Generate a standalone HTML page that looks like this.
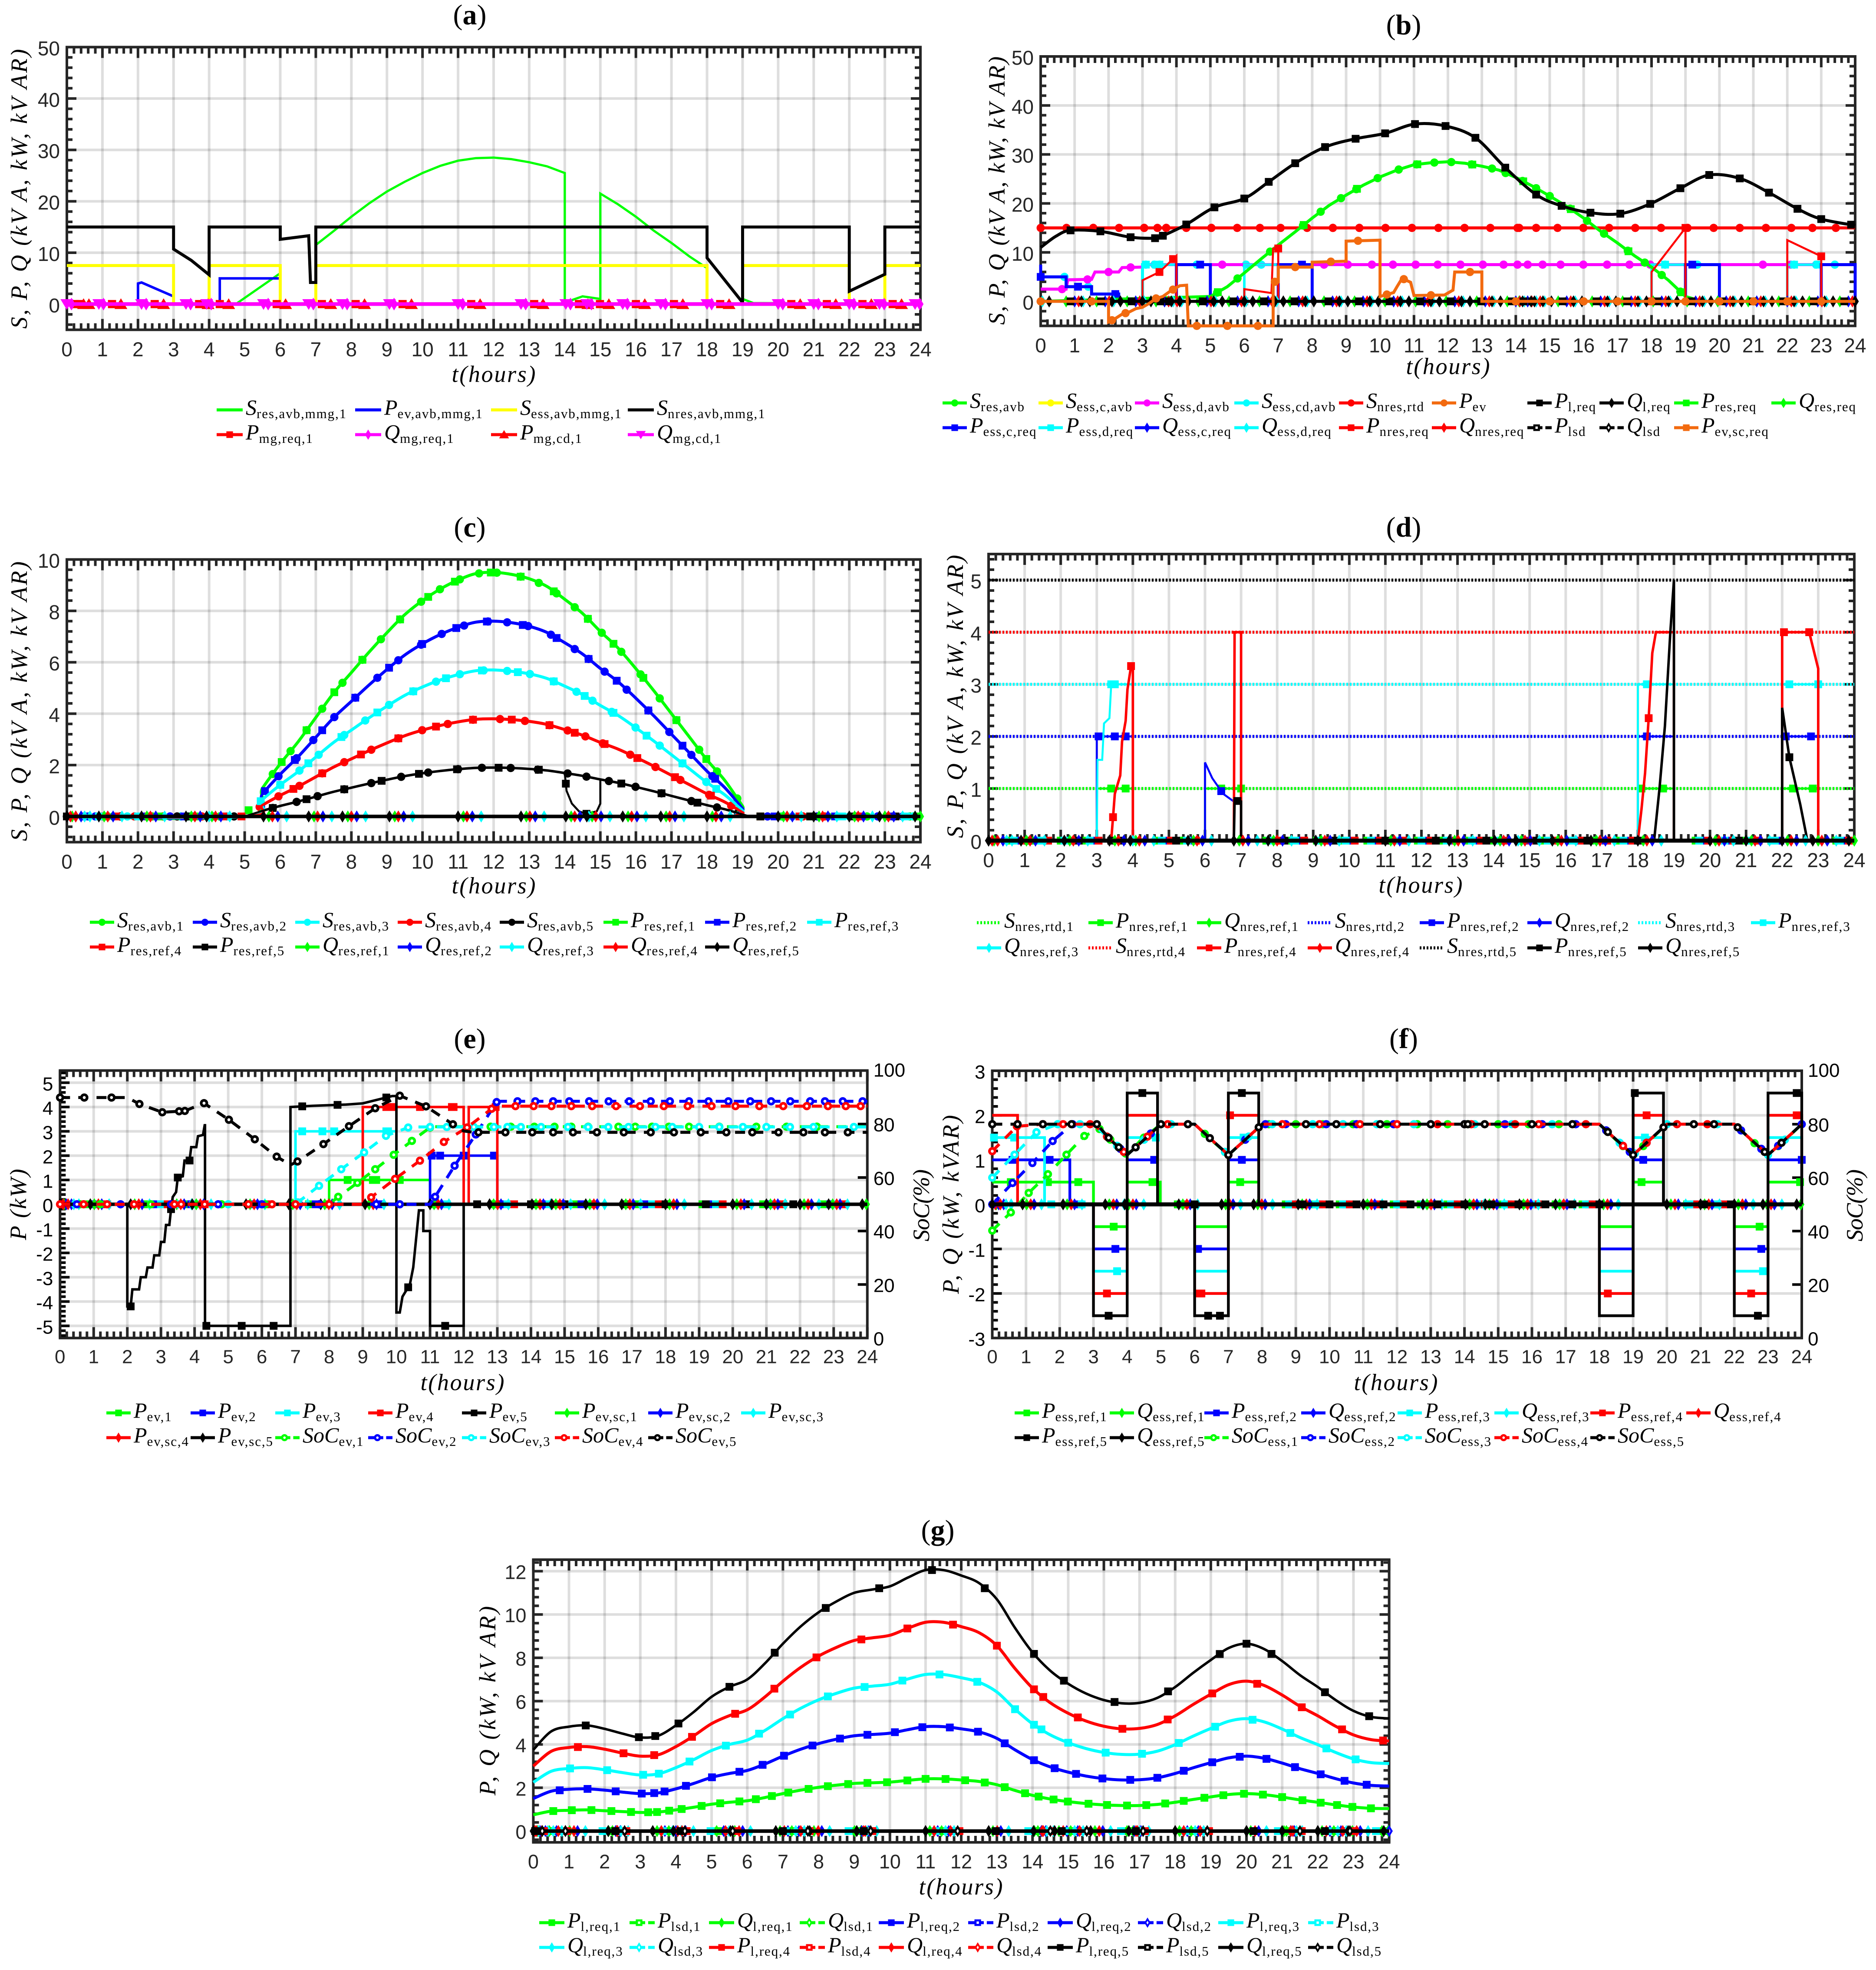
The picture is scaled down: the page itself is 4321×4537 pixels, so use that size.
<!DOCTYPE html>
<html lang="en">
<head>
<meta charset="utf-8">
<title>Microgrid power flow charts</title>
<style>
html,body{margin:0;padding:0;background:#fff;}
svg{display:block;}
text{font-family:"Liberation Serif",serif;}
.tick{font-family:"Liberation Sans",sans-serif;}
</style>
</head>
<body>
<svg id="figure" xmlns="http://www.w3.org/2000/svg" width="4321" height="4537" viewBox="0 0 4321 4537">
<rect x="0" y="0" width="4321" height="4537" fill="#fff"/>
<g id="panel-a"></g>
<g id="panel-b"></g>
<g id="panel-c"></g>
<g id="panel-d"></g>
<g id="panel-e"></g>
<g id="panel-f"></g>
<g id="panel-g"></g>
</svg>
<script>
/* ---------- colours ---------- */
const GRN='#00ff00',BLU='#0000ff',CYN='#00ffff',RED='#ff0000',BLK='#000000',YEL='#ffff00',MAG='#ff00ff',ORG='#f26a0f';

/* ---------- shared data ---------- */
const hourTicks=[0,1,2,3,4,5,6,7,8,9,10,11,12,13,14,15,16,17,18,19,20,21,22,23,24];
const zeroT=[0,24];
const zeroV=[0,0];
const zeroMarks=[0,.55,.9,1.66,2.1,2.54,3.35,3.6,3.93,4.69,5.53,6.34,6.8,7.2,7.75,8.56,9.07,10.07,11,11.84,12.77,13.6,14.03,14.3,14.62,15.04,15.63,16.2,16.7,17.3,18,19.04,20,20.6,21,21.5,22,22.35,22.85,23.35,23.85];
const sparseMarks=[.7,1.6,2.5,3.35,3.6,4.6,5.5,6.4,7.3,8.3,9.2,10.1,11,11.9,12.8,13.7,14.05,14.3,15.2,16.2,17.1,18,19,19.9,20.8,21.7,22.6,23.5];

/* ---------- panel a data ---------- */
const aYTicks=[0,10,20,30,40,50];
const aResT=[0,4.75,6,6,7,7,7.5,8,8.5,9,9.5,10,10.5,11,11.5,12,12.5,13,13.5,14,14,14.5,15,15,15.5,16,16.5,17,17.5,18,18,19,19,19.3,24];
const aResV=[0,0,6,0,0,11.5,14.2,17,19.6,21.9,23.8,25.5,26.9,27.9,28.4,28.5,28.2,27.6,26.8,25.5,.3,1.5,1,21.5,19.4,17,14.3,11.9,9.3,7,0,0,1,.2,0];
const aEvT=[0,2,2,2.1,2.5,3,3,4.3,4.3,6,6,24];
const aEvV=[0,0,4,4.2,3,1.5,0,0,5,5,0,0];
const aEssT=[0,3,3,4,4,6,6,7,7,18,18,19,19,22,22,23,23,24];
const aEssV=[7.5,7.5,0,0,7.5,7.5,0,0,7.5,7.5,0,0,7.5,7.5,0,0,7.5,7.5];
const aNresT=[0,3,3,3.5,4,4,6,6,6.8,6.85,7,7,18,18,19,19,22,22,23,23,24];
const aNresV=[15,15,10.7,8.5,5.7,15,15,12.6,13.3,4.2,4.2,15,15,9,.3,15,15,2.5,5.8,15,15];

/* ---------- panel b data ---------- */
const bYTicks=[0,10,20,30,40,50];
const bResT=[0,5,5.5,6,6.5,7,7.5,8,8.5,9,9.5,10,10.5,11,11.5,12,12.5,13,13.5,14,14.5,15,15.5,16,16.5,17,17.5,18,18.5,19,19.5,24];
const bResV=[0,1,3,5.8,8.7,11.5,14.2,17,19.6,21.7,23.7,25.4,26.8,27.9,28.3,28.5,28.2,27.6,26.8,25.3,23.5,21.5,19.4,17,14.3,11.9,9.3,7,4.3,1,0,0];
const bLoadT=[0,.45,.88,1.76,2.65,3.37,3.6,4.29,5.12,6,6.72,7.5,8.38,9.28,10.15,11.03,11.93,12.81,13.69,14.6,15.35,16.2,17.08,17.96,18.85,19.7,20.6,21.46,22.3,23,24];
const bLoadV=[11,13.3,14.5,14.3,13.1,12.9,13.4,15.7,19.2,21,24.4,28.2,31.5,33.2,34.3,36.2,35.8,33.4,27.3,21.8,19.5,18.1,17.9,19.9,23.1,25.8,25.1,22.2,18.9,16.8,15.5];
const bRtdV=[15,15];
const bDAvbT=[0,.75,.8,1.5,1.6,2.3,2.4,3,3.1,24];
const bDAvbV=[2.5,2.5,4.4,4.5,6,6,6.9,7,7.5,7.5];
const bCdAvbT=[0,.75,.75,1.5,1.5,2.3,2.3,3,3,24];
const bCdAvbV=[5,5,3,3,1.5,1.5,.5,.5,7.5,7.5];
const bEssCT=[0,0,.75,.75,1.5,1.5,2.3,2.3,3,4,4,5,5,7,7,8,8,19,19,20,20,23,23,24,24];
const bEssCV=[7.5,5,5,3,3,1.5,1.5,.5,0,0,7.5,7.5,0,0,7.5,7.5,0,0,7.5,7.5,0,0,7.5,7.5,0];
const bEssDT=[0,3,3,4,4,6,6,7,7,18,18,19,19,22,22,23,23,24];
const bEssDV=[0,0,7.5,7.5,0,0,7.5,7.5,0,0,7.5,7.5,0,0,7.5,7.5,0,0];
const bNresT=[0,3,3,3.5,4,4,6,6,6.8,6.85,7,7,18,18,19,19,22,22,23,23,24];
const bNresV=[0,0,4.3,6,9.3,0,0,2.5,1.7,10.8,10.8,0,0,6,15,0,0,12.5,9.2,0,0];
const bEvT=[0,2,2,2.2,2.4,2.6,2.8,3,3.2,3.4,3.6,3.8,4,4.1,4.3,4.35,6.85,6.85,7,7,8,8,9,9,10,10,10.4,10.5,10.65,10.9,11,11.9,12.15,12.2,13,13,24];
const bEvV=[0,0,-4.2,-3.5,-2.6,-2.2,-1.5,-1.2,-.4,.6,1,2,2.8,3.2,3.3,-5,-5,4,4,7,7,8,8.2,12.3,12.5,1,1.8,3,4.7,3.9,1.2,1.3,2.3,6,6,0,0];
const bMarkRes=[5.2,5.8,6.76,7.73,8.25,8.85,9.3,9.93,10.55,11.08,11.6,12.1,12.7,13.3,13.7,14.2,14.6,15,15.6,16.1,16.6,17.3,17.8,18.3,18.85];
const bMarkLoad=[.88,1.76,2.65,3.37,3.6,4.29,5.12,6,6.72,7.5,8.38,9.28,10.15,11.03,11.93,12.81,13.69,14.6,15.35,16.2,17.08,17.96,18.85,19.7,20.6,21.46,22.3,23,23.88];
const bMarkRtd=[0,.76,1.55,2.31,3.05,3.44,3.7,4.29,5.03,5.79,6.46,7.07,7.85,8.61,9.39,10.16,10.94,11.72,12.49,13.25,14.05,14.1,14.6,15.23,15.99,16.75,17.52,18.28,19.06,19.83,20.6,21.37,22.12,22.74,23.43];
const bMarkD=[.63,1.38,2,2.65,5.35,8.35,9.05,9.76,10.38,11.05,11.7,12.37,13.03,13.64,14.05,14.35,14.79,15.32,15.99,16.69,17.35,17.96,21.28,22.1];
const bMarkCd=[.7,1.4,3.1,3.35,3.5,4.6,6.05,6.5,18.4,19.35,22.2,22.85,23.4];
const bMarkC=[0,1.1,2.2,3.1,3.5,4.7,7.7,19.2];
const bMarkEv=[0,1.5,2.1,2.5,3.4,3.9,4.6,5.5,6.4,6.9,7.5,8.55,9.35,10.2,10.7,11.5,12.65,14,15,16,17,18,19,20,21,22,23];
const bMarkNres=[3.5,3.9,6,7,18,19,22,23];

/* ---------- panel c data ---------- */
const cYTicks=[0,2,4,6,8,10];
const cHours=[0,5,5.5,6,6.5,7,7.5,8,8.5,9,9.5,10,10.5,11,11.5,12,12.5,13,13.5,14,14.5,15,15.5,16,16.5,17,17.5,18,18.5,19,19.2,24];
const cCurve1=[0,0,1.1,2.05,2.9,3.85,4.8,5.6,6.4,7.15,7.85,8.4,8.85,9.2,9.45,9.5,9.42,9.25,8.95,8.45,7.9,7.2,6.55,5.75,4.9,4,3.1,2.2,1.4,.4,0,0];
const cCurve2=[0,0,.88,1.64,2.32,3.08,3.84,4.48,5.12,5.72,6.28,6.72,7.08,7.36,7.56,7.6,7.54,7.4,7.16,6.76,6.32,5.76,5.24,4.6,3.92,3.2,2.48,1.76,1.12,.32,0,0];
const cCurve3=[0,0,.66,1.23,1.74,2.31,2.88,3.36,3.84,4.29,4.71,5.04,5.31,5.52,5.67,5.7,5.65,5.55,5.37,5.07,4.74,4.32,3.93,3.45,2.94,2.4,1.86,1.32,.84,.24,0,0];
const cCurve4=[0,0,.44,.82,1.16,1.54,1.92,2.24,2.56,2.86,3.14,3.36,3.54,3.68,3.78,3.8,3.77,3.7,3.58,3.38,3.16,2.88,2.62,2.3,1.96,1.6,1.24,.88,.56,.16,0,0];
const cCurve5=[0,0,.22,.41,.58,.77,.96,1.12,1.28,1.43,1.57,1.68,1.77,1.84,1.89,1.9,1.885,1.85,1.79,1.69,1.58,1.44,1.31,1.15,.98,.8,.62,.44,.28,.08,0,0];
const cDipT=[0,5,5.5,6,6.5,7,7.5,8,8.5,9,9.5,10,10.5,11,11.5,12,12.5,13,13.5,14,14.05,14.2,14.4,14.6,14.9,15,15,15.5,16,16.5,17,17.5,18,18.5,19,19.2,24];
const cDipV=[0,0,.22,.41,.58,.77,.96,1.12,1.28,1.43,1.57,1.68,1.77,1.84,1.89,1.9,1.885,1.85,1.79,1.69,1,.5,.2,.1,.2,.5,1.44,1.31,1.15,.98,.8,.62,.44,.28,.08,0,0];
const cS1Marks=[.6,1.3,2.4,3.4,4.3,5.79,6.29,6.74,7.18,7.75,8.31,8.83,9.37,9.96,10.49,11.05,11.59,12.09,12.76,13.27,13.77,14.28,14.65,15.04,15.59,16.13,16.67,17.14,17.78,18.28,18.85,20.1,21.4,22.5,23.7];
const cP1Marks=[1.1,2.6,3.6,5.11,6.04,6.74,7.52,8.31,9.37,10.16,10.91,11.92,12.76,13.69,14.65,15.37,16.21,17.14,17.98,19.5,20.9,22.2,23.9];
const cS2Marks=[.8,1.5,2.9,4.1,5.95,6.46,6.93,7.52,8.11,8.73,9.32,9.96,10.54,11.17,11.84,12.38,12.97,13.61,14.28,14.67,15.12,15.74,16.35,16.94,17.56,18.15,19.7,21.1,22.8,23.5];
const cP2Marks=[.5,2.2,3.3,5.57,6.41,7.18,8.11,9.06,9.99,10.95,11.81,12.82,13.77,14.67,15.46,16.35,17.31,18.23,19.9,21.6,23.2];
const cS3Marks=[.6,1.7,3.2,4.5,6,6.54,7.08,7.8,8.39,9.06,9.74,10.38,11.05,11.72,12.38,13.02,13.69,14.33,14.78,15.32,15.99,16.67,17.31,17.98,20.4,22,23.8];
const cP3Marks=[.9,2,3.5,5.45,6,6.79,7.72,8.73,9.74,10.66,11.67,12.68,13.69,14.56,15.37,16.3,17.31,18.26,20.2,21.8,23.6];
const cS4Marks=[1,1.9,2.7,3.8,5.42,5.95,6.54,7.18,7.8,8.56,9.32,9.99,10.71,11.42,12.18,12.88,13.57,14.08,14.58,15.07,15.84,16.55,17.25,18.06,18.68,20.7,21.3];
const cP4Marks=[1.4,2.3,4.4,4.91,6.37,7.18,8.27,9.32,10.38,11.42,12.51,13.57,14.28,15.12,16.04,17.1,18.11,19.5,20.6,22.3];
const cS5Marks=[0,1.5,3.1,4.7,5.79,6.46,7.05,7.8,8.56,9.4,10.16,11,11.67,12.48,13.24,14.08,14.61,15.24,15.99,16.72,17.56,18.28,18.87,21,23.1];
const cP5Marks=[0,3.5,5.79,6.74,7.8,8.85,9.9,10.97,12.14,13.27,14.03,14.61,15.59,16.72,17.73,19.5,20.9,22.1,23.3];

/* ---------- panel d data ---------- */
const dYTicks=[0,1,2,3,4,5];
const dRated1=[1,1];
const dRated2=[2,2];
const dRated3=[3,3];
const dRated4=[4,4];
const dRated5=[5,5];
const dP1T=[0,3,3,4,4,6,6,7,7,18,18,19,19,22,22,23,23,24];
const dP1V=[0,0,1,1,0,0,1,1,0,0,1,1,0,0,1,1,0,0];
const dP2T=[0,3,3,4,4,6,6,6.2,6.5,6.8,7,7,18,18,19,19,22,22,23,23,24];
const dP2V=[0,0,2,2,0,0,1.5,1.2,.9,.75,.75,0,0,2,2,0,0,2,2,0,0];
const dP3T=[0,3,3.02,3.15,3.2,3.35,3.4,4,4,18,18,19,19,22,22,23,23,24];
const dP3V=[0,0,1.55,1.55,2.25,2.35,3,3,0,0,3,3,0,0,3,3,0,0];
const dP4T=[0,3.4,3.5,3.65,3.7,3.8,3.85,3.95,4,4,6.8,6.82,7,7,18,18.1,18.2,18.3,18.4,18.5,19,19,22,22,22.75,23,23,24];
const dP4V=[0,0,.9,1.25,1.9,2.3,2.9,3.35,3.35,0,0,4,4,0,0,.6,1.3,2.35,3.6,4,4,0,0,4,4,3.3,0,0];
const dP5T=[0,6.8,6.82,7,7,18.45,18.6,18.75,18.9,19,19,22,22,22.2,22.5,22.7,24];
const dP5V=[0,0,.77,.75,0,0,1,2.2,4,5,0,0,2.55,1.6,.7,0,0];
const dLow=[.5,1.2,1.9,2.6,4.6,5.3,7.6,8.3,9,9.7,10.4,11.1,11.8,12.5,13.2,13.9,14.6,15.3,16,16.7,17.4,19.5,20.2,20.9,21.6,23.4];
const dP1Level=[3,3.4,3.8,6.45,7,18.1,18.7,22.3,22.85];
const dP2Level=[3.05,3.5,3.8,6.45,18.25,22.1,22.8];
const dP3Level=[3.4,3.5,18.25,22.2,23];
const dP4Level=[3.45,3.95,18.3,22.75];
const dP5Level=[3.4,3.7,6.9];

/* ---------- panel e data ---------- */
const eYTicks=[-5,-4,-3,-2,-1,0,1,2,3,4,5];
const eRTicks=[0,20,40,60,80,100];
const eP1T=[0,8,8,11,11,24];
const eP1V=[0,0,1,1,0,0];
const eP2T=[0,11,11,13,13,24];
const eP2V=[0,0,2,2,0,0];
const eP3T=[0,7,7,10,10,24];
const eP3V=[0,0,3,3,0,0];
const eP4T=[0,9,9,12,12,12.15,12.15,13,13,24];
const eP4V=[0,0,4,4,0,0,4,4,0,0];
const eP5T=[0,2,2,2.1,2.15,2.35,2.4,2.55,2.6,2.75,2.8,2.95,3,3.1,3.15,3.25,3.3,3.35,3.45,3.5,3.65,3.7,3.85,3.9,4.05,4.1,4.25,4.3,4.31,4.31,6.85,6.85,7.5,8.5,9,9.87,10,10,10.1,10.18,10.4,10.5,10.67,10.8,10.8,11,11,12,12,24];
const eP5V=[0,0,-4.2,-4.2,-3.5,-3.5,-3,-3,-2.6,-2.6,-2.1,-2.1,-1.55,-1.55,-.85,-.85,-.2,.3,.5,1.1,1.15,1.8,1.8,2.35,2.35,2.8,2.85,3.25,3.25,-5,-5,4,4.05,4.1,4.15,4.45,4.45,-4.45,-4.45,-3.8,-3.3,-2.6,-.25,-.25,-1.1,-1.1,-5,-5,0,0];
const eSoc1T=[0,8,8.27,8.84,9.37,9.92,10.46,11,11.1,24];
const eSoc1V=[50,50,52.8,58,63.1,68.5,73.7,78.7,79,79];
const eSoc2T=[0,11,11.15,11.73,12.36,12.98,13.1,24];
const eSoc2V=[50,50,52.8,64.4,76.1,88.2,88.5,88.5];
const eSoc3T=[0,7,7.07,7.7,8.36,9.04,9.69,10.35,10.5,24];
const eSoc3V=[50,50,50.7,56.9,63.1,69.4,75.6,78.7,78.9,78.9];
const eSoc4T=[0,9,9.25,9.96,10.7,11.41,12.1,12.83,13,24];
const eSoc4V=[50,50,52.6,59.5,66.3,73.3,78.7,85.7,86.7,86.7];
const eSoc5T=[0,2,2.36,3.04,3.71,4.28,5.02,5.79,6.44,6.85,7.06,7.83,8.59,9.37,10.1,10.88,11.68,12,12.3,24];
const eSoc5V=[89.9,89.9,87.5,84.4,84.9,87.8,81.6,74.3,67.8,64.7,66,72.5,79.2,85.9,90.6,86.6,79.9,77.4,76.9,76.9];
const eSoc1Marks=[.6,1.2,2.7,3.5,4.8,6.1,8.27,8.84,9.37,9.92,10.46,11,12.8,13.4,14.1,14.7,15.2,15.7,16.6,17.1,17.6,18.1,18.7,19.6,20.7,21.6,22.5];
const eSoc2Marks=[.5,1.8,3.3,4.7,6,7.7,9.4,10.1,11.15,11.73,12.36,12.98,13.6,14.13,14.66,15.14,15.73,16.31,16.92,17.56,18.13,18.7,19.28,19.87,20.52,21.14,21.71,22.3,22.74,23.27,23.86];
const eSoc3Marks=[.7,2.2,3.5,5,6.3,7.07,7.7,8.36,9.04,9.69,10.35,11,11.5,12.3,12.9,13.3,13.7,14.3,15.1,15.7,16.3,16.9,17.7,18.2,19,19.6,20.3,21,21.7,22.4,23.6];
const eSoc4Marks=[0,.7,1.4,2.2,3.4,3.6,4.3,5.6,6.3,7,8,9.25,9.96,10.7,11.41,12.1,12.83,13.54,14.08,14.61,15.2,15.82,16.53,17.24,17.95,18.66,19.37,20.08,20.79,21.5,22.2,22.83,23.36,23.8];
const eSoc5Marks=[0,.72,1.53,2.36,3.04,3.54,3.71,4.28,5.02,5.79,6.44,7.06,7.83,8.59,9.37,10.1,10.88,11.68,12.44,13.24,14.04,14.66,15.25,15.96,16.76,17.56,18.25,19.05,19.81,20.58,21.36,22.1,22.74,23.42];
const eP5Level=[2.1,3.3,3.5,3.85,4.35,5.4,6.35,7.2,8.25,9.7,10.35,11.45,12.4,14,15,16.8,18,19.2,20.4,21.8];

/* ---------- panel f data ---------- */
const fYTicks=[-3,-2,-1,0,1,2,3];
const fRTicks=[0,20,40,60,80,100];
const fP1T=[0,3,3,4,4,4.98,4.98,6,6,7,7,7.9,7.9,18,18,19,19,19.9,19.9,22,22,23,23,24,24];
const fP1V=[.5,.5,-.5,-.5,.5,.5,0,0,-.5,-.5,.5,.5,0,0,-.5,-.5,.5,.5,0,0,-.5,-.5,.5,.5,0];
const fP2T=[0,2.3,2.3,3,3,4,4,4.9,4.9,6,6,7,7,7.9,7.9,18,18,19,19,19.9,19.9,22,22,23,23,24,24];
const fP2V=[1,1,0,0,-1,-1,1,1,0,0,-1,-1,1,1,0,0,-1,-1,1,1,0,0,-1,-1,1,1,0];
const fP3T=[0,1.55,1.55,3,3,4,4,4.9,4.9,6,6,7,7,7.9,7.9,18,18,19,19,19.9,19.9,22,22,23,23,24,24];
const fP3V=[1.5,1.5,0,0,-1.5,-1.5,1.5,1.5,0,0,-1.5,-1.5,1.5,1.5,0,0,-1.5,-1.5,1.5,1.5,0,0,-1.5,-1.5,1.5,1.5,0];
const fP4T=[0,.75,.75,3,3,4,4,4.9,4.9,6,6,7,7,7.9,7.9,18,18,19,19,19.9,19.9,22,22,23,23,24,24];
const fP4V=[2,2,0,0,-2,-2,2,2,0,0,-2,-2,2,2,0,0,-2,-2,2,2,0,0,-2,-2,2,2,0];
const fP5T=[0,3,3,4,4,4.9,4.9,6,6,7,7,7.9,7.9,18,18,19,19,19.9,19.9,22,22,23,23,24,24];
const fP5V=[0,0,-2.5,-2.5,2.5,2.5,0,0,-2.5,-2.5,2.5,2.5,0,0,-2.5,-2.5,2.5,2.5,0,0,-2.5,-2.5,2.5,2.5,0];
const fSoc1T=[0,.55,1.08,1.65,2.2,2.73,3.18,3.6,4,4.4,5,6,6.5,7,7.5,8,18,18.5,19,19.5,20,22,22.5,23,23.5,24];
const fSoc1V=[40.2,47,54.3,61.3,68.6,75.6,78.2,73,68.5,74,80,80,74,68.5,74,80,80,74,68.5,74,80,80,74,68.5,74,80];
const fSoc2T=[0,.6,1.19,1.79,2.38,3,3.5,4,4.5,5,6,6.5,7,7.5,8,18,18.5,19,19.5,20,22,22.5,23,23.5,24];
const fSoc2V=[50,58,65.5,73.7,80,80,74.2,68.5,74.2,80,80,74.2,68.5,74.2,80,80,74.2,68.5,74.2,80,80,74.2,68.5,74.2,80];
const fSoc3T=[0,.66,1.31,1.94,3,3.5,4,4.5,5,6,6.5,7,7.5,8,18,18.5,19,19.5,20,22,22.5,23,23.5,24];
const fSoc3V=[60,68.6,77,80,80,74.2,68.5,74.2,80,80,74.2,68.5,74.2,80,80,74.2,68.5,74.2,80,80,74.2,68.5,74.2,80];
const fSoc4T=[0,.73,1.5,3,3.5,4,4.5,5,6,6.5,7,7.5,8,18,18.5,19,19.5,20,22,22.5,23,23.5,24];
const fSoc4V=[69.9,79.2,80,80,74.2,68.5,74.2,80,80,74.2,68.5,74.2,80,80,74.2,68.5,74.2,80,80,74.2,68.5,74.2,80];
const fSoc5T=[0,3.1,3.5,4,4.5,5,6,6.5,7,7.5,8,18,18.5,19,19.5,20,22,22.5,23,23.5,24];
const fSoc5V=[80,80,74.2,68.5,74.2,80,80,74.2,68.5,74.2,80,80,74.2,68.5,74.2,80,80,74.2,68.5,74.2,80];
const fSoc1Marks=[0,.55,1.08,1.65,2.2,2.73,3.18,3.5,3.95,4.5,6.3,6.9,8.2,9,9.8,10.7,11.7,12.6,13.5,14.1,15,15.9,16.8,18.7,19.3,22.6,23.3];
const fSoc2Marks=[0,.6,1.19,1.79,2.38,3.8,4.7,6.9,7.5,8.1,8.7,9.9,10.8,11.9,13,14,15.2,16.3,17.3,18.2,18.9,19.4,22.2,22.8,23.3,24];
const fSoc3Marks=[0,.66,1.31,1.94,2.6,3.7,4.5,5.3,6.9,7.6,8.3,9.5,10.4,11.4,12.5,14.3,15.4,16.6,18.6,19.05,20,21.5,23,23.5];
const fSoc4Marks=[0,.73,1.5,2.1,2.9,3.4,3.9,4.6,5.2,5.8,7,8.6,9.7,10.9,12,13.2,14.2,15.5,16.2,17.6,18.7,19.4,20.3,21.2,22.9];
const fSoc5Marks=[0,.75,1.5,2.35,3.1,3.45,3.75,4.25,5,5.8,6.45,7,7.9,9.3,10.2,11.5,13,14,14.1,14.6,16,17.2,18.25,19,19.9,20.8,21.4,22.1,22.9,23.4];
const fLevel=[.5,1.1,1.6,2.2,2.5,3.4,3.55,4.4,4.7,6.4,7.3,18.3,19.2,22.3,22.7,23.4,23.9];
const fZeroRun=[5.4,5.8,8.6,9.4,10.2,11,11.8,12.6,13.4,14.2,15,15.8,16.6,17.4,20.5,21.3];

/* ---------- panel g data ---------- */
const gYTicks=[0,2,4,6,8,10,12];
const gHours=[0,.5,1,1.5,2,2.5,3,3.5,4,4.5,5,5.5,6,6.5,7,7.5,8,8.5,9,9.5,10,10.5,11,11.5,12,12.5,13,13.5,14,14.5,15,15.5,16,16.5,17,17.5,18,18.5,19,19.5,20,20.5,21,21.5,22,22.5,23,23.5,24];
const gLoad1=[.75,.92,.96,.98,.94,.9,.86,.88,.98,1.1,1.24,1.33,1.4,1.55,1.73,1.89,2.02,2.12,2.2,2.23,2.26,2.34,2.41,2.41,2.36,2.29,2.14,1.88,1.65,1.48,1.36,1.27,1.21,1.18,1.18,1.23,1.33,1.46,1.58,1.69,1.73,1.68,1.57,1.44,1.33,1.21,1.11,1.05,1.04];
const gLoad2=[1.5,1.84,1.93,1.95,1.89,1.8,1.73,1.76,1.95,2.2,2.48,2.66,2.8,3.1,3.46,3.78,4.04,4.24,4.4,4.46,4.52,4.68,4.82,4.82,4.72,4.58,4.28,3.76,3.3,2.96,2.72,2.54,2.42,2.36,2.37,2.46,2.66,2.92,3.16,3.38,3.46,3.36,3.14,2.88,2.66,2.42,2.22,2.11,2.08];
const gLoad3=[2.25,2.76,2.89,2.93,2.83,2.7,2.59,2.64,2.93,3.3,3.72,4,4.2,4.65,5.19,5.67,6.06,6.36,6.6,6.69,6.78,7.02,7.23,7.23,7.08,6.87,6.42,5.64,4.95,4.44,4.08,3.81,3.63,3.54,3.55,3.69,3.99,4.38,4.74,5.07,5.19,5.04,4.71,4.32,3.99,3.63,3.33,3.16,3.12];
const gLoad4=[3,3.68,3.86,3.9,3.78,3.6,3.46,3.52,3.9,4.4,4.96,5.33,5.6,6.2,6.92,7.56,8.08,8.48,8.8,8.92,9.04,9.36,9.64,9.64,9.44,9.16,8.56,7.52,6.6,5.92,5.44,5.08,4.84,4.72,4.74,4.92,5.32,5.84,6.32,6.76,6.92,6.72,6.28,5.76,5.32,4.84,4.44,4.22,4.16];
const gLoad5=[3.75,4.6,4.82,4.88,4.72,4.5,4.32,4.4,4.88,5.5,6.2,6.66,7,7.75,8.65,9.45,10.1,10.6,11,11.15,11.3,11.7,12.05,12.05,11.8,11.45,10.7,9.4,8.25,7.4,6.8,6.35,6.05,5.9,5.92,6.15,6.65,7.3,7.9,8.45,8.65,8.4,7.85,7.2,6.65,6.05,5.55,5.27,5.2];
const gMarks1=[.56,1.08,1.63,2.19,2.74,3.22,3.47,3.81,4.16,4.72,5.24,5.78,6.24,6.69,7.15,7.72,8.26,8.83,9.37,9.92,10.49,11,11.56,12.11,12.66,13.22,13.79,14.17,14.59,14.99,15.57,16.09,16.65,17.19,17.72,18.24,18.82,19.35,19.93,20.46,21,21.57,22.08,22.54,22.97,23.49];
const gMarks2=[.74,1.52,2.31,3.04,3.39,3.68,4.28,5.01,5.78,6.43,7.03,7.83,8.6,9.37,10.14,10.91,11.68,12.47,13.22,14.04,14.62,15.22,15.96,16.74,17.5,18.24,19.04,19.81,20.56,21.36,22.08,22.75,23.37];
const gMarks3=[1.03,2.07,3.08,3.52,4.38,5.4,6.33,7.2,8.26,9.29,10.35,11.39,12.45,13.51,14.04,14.25,15,16.05,17.07,18.1,19.12,20.17,21.23,22.24,23.06];
const gMarks4=[1.25,2.53,3.39,4.45,5.66,6.76,7.94,9.2,10.49,11.77,13,14.04,14.3,15.27,16.52,17.79,19.04,20.3,21.55,22.68,23.83];
const gMarks5=[1.47,2.96,3.42,4.07,5.5,6.77,8.2,9.7,11.18,12.66,14.04,14.88,16.3,17.8,19.25,20,20.7,22.2,23.44];

/* ---------- helpers ---------- */
const NS='http://www.w3.org/2000/svg';
const LINE_SCALE=1.15;
const MARK_SCALE=1.12;
function mk(tag,parent,attrs){
  const n=document.createElementNS(NS,tag);
  for(const k in attrs){n.setAttribute(k,attrs[k]);}
  parent.appendChild(n);
  return n;
}
function shifted(list,s,step){
  const out=[];
  list.forEach((h,i)=>{
    if(step&&i%step!==0)return;
    let v=h+s;
    if(v>24)v-=24;
    out.push(v);
  });
  return out;
}
function xOf(p,h){return p.L+(p.R-p.L)*h/24;}
function yOf(p,v){return p.B-(p.B-p.T)*(v-p.ymin)/(p.ymax-p.ymin);}
function yRight(p,v){return p.B-(p.B-p.T)*(v-p.rmin)/(p.rmax-p.rmin);}
function valueAt(t,v,h){
  if(t.length===v.length){
    for(let i=0;i<t.length-1;i++){
      if(h>=t[i]&&h<=t[i+1]){
        if(t[i+1]===t[i])return v[i+1];
        return v[i]+(v[i+1]-v[i])*(h-t[i])/(t[i+1]-t[i]);
      }
    }
  }
  return v[v.length-1];
}
function shapePath(type,cx,cy,k){
  const sq=8*k,dw=7.5*k,dh=12.5*k,tw=12*k,th=10*k,r=8.5*k;
  if(type==='sq')return `M${cx-sq} ${cy-sq}H${cx+sq}V${cy+sq}H${cx-sq}Z`;
  if(type==='di')return `M${cx} ${cy-dh}L${cx+dw} ${cy}L${cx} ${cy+dh}L${cx-dw} ${cy}Z`;
  if(type==='tu')return `M${cx} ${cy-th-1}L${cx+tw} ${cy+th-1}H${cx-tw}Z`;
  if(type==='td')return `M${cx} ${cy+th+1}L${cx+tw} ${cy-th+1}H${cx-tw}Z`;
  return `M${cx-r} ${cy}A${r} ${r} 0 1 1 ${cx+r} ${cy}A${r} ${r} 0 1 1 ${cx-r} ${cy}Z`;
}
function drawMark(g,type,cx,cy,color,k,hollow){
  const m=mk('path',g,{d:shapePath(type,cx,cy,k),fill:color});
  
  
  if(hollow){
    const hole=mk('path',g,{d:shapePath(type,cx,cy,k*0.36),fill:'#fff'});
    
    
  }
}
function smoothPath(pts){
  let d=`M${pts[0][0]} ${pts[0][1]}`;
  for(let i=0;i<pts.length-1;i++){
    const a=pts[Math.max(i-1,0)],b=pts[i],c=pts[i+1],e=pts[Math.min(i+2,pts.length-1)];
    d+=`C${b[0]+(c[0]-a[0])/6} ${b[1]+(c[1]-a[1])/6} ${c[0]-(e[0]-b[0])/6} ${c[1]-(e[1]-b[1])/6} ${c[0]} ${c[1]}`;
  }
  return d;
}
function drawSeries(g,p,s){
  const toY=s.right?yRight:yOf;
  const pts=s.t.map((h,i)=>[xOf(p,h),toY(p,s.v[i])]);
  const d=s.smooth?smoothPath(pts):'M'+pts.map(q=>q[0]+' '+q[1]).join('L');
  const attrs={d:d,fill:'none',stroke:s.c,'stroke-width':(s.w||6)*LINE_SCALE,'stroke-linejoin':'miter','stroke-miterlimit':3};
  if(s.dash)attrs['stroke-dasharray']=s.dash;
  const line=mk('path',g,attrs);
  
  
  if(s.m){
    (s.mt||[]).forEach(h=>{
      drawMark(g,s.m,xOf(p,h),toY(p,valueAt(s.t,s.v,h)),s.c,(s.k||1)*MARK_SCALE,s.hollow);
    });
  }
}
function drawAxes(g,p){
  const grid=mk('g',g,{});
  
  
  const ink=p.ink||'#262626';
  const ticks=mk('g',g,{stroke:'#262626','stroke-width':6,fill:'none'});
  
  
  const yInk=mk('g',g,{stroke:ink,'stroke-width':6,fill:'none'});
  
  
  hourTicks.forEach(h=>{
    const x=xOf(p,h);
    if(h>0&&h<24){
      mk('line',grid,{x1:x,x2:x,y1:p.T,y2:p.B,stroke:'#000','stroke-opacity':.13,'stroke-width':6});
    }
    mk('line',ticks,{x1:x,x2:x,y1:p.B,y2:p.B-25});
    mk('line',ticks,{x1:x,x2:x,y1:p.T,y2:p.T+25});
    if(h<24){
      for(let k=1;k<5;k++){
        const xm=x+(p.R-p.L)/24*k/5;
        mk('line',ticks,{x1:xm,x2:xm,y1:p.B,y2:p.B-15});
        mk('line',ticks,{x1:xm,x2:xm,y1:p.T,y2:p.T+15});
      }
    }
    const lab=mk('text',g,{class:'tick',x:x,y:p.B+p.xOff,'font-size':p.fs,'text-anchor':'middle',fill:'#262626'});
    lab.textContent=h;
    
    
  });
  const step=p.yt[1]-p.yt[0];
  for(let v=p.yt[0]-step;v<=p.yt[p.yt.length-1]+step;v+=step/5){
    const vr=Math.round(v*1000)/1000;
    if(vr<p.ymin||vr>p.ymax)continue;
    const isMajor=p.yt.includes(vr);
    const y=yOf(p,vr);
    mk('line',yInk,{x1:p.L,x2:p.L+(isMajor?22:13),y1:y,y2:y});
    if(!p.rt){mk('line',yInk,{x1:p.R,x2:p.R-(isMajor?22:13),y1:y,y2:y});}
  }
  p.yt.forEach(v=>{
    const y=yOf(p,v);
    if(y>p.T+4&&y<p.B-4){
      mk('line',grid,{x1:p.L,x2:p.R,y1:y,y2:y,stroke:'#000','stroke-opacity':.13,'stroke-width':6});
    }
    const lab=mk('text',g,{class:'tick',x:p.L-16,y:y+(p.yOff||19),'font-size':p.fs,'text-anchor':'end',fill:ink});
    lab.textContent=v;
    
    
  });
  if(p.rt){
    p.rt.forEach(v=>{
      const y=yRight(p,v);
      if(v>0&&v<100){mk('line',yInk,{x1:p.R,x2:p.R-22,y1:y,y2:y});}
      const lab=mk('text',g,{class:'tick',x:p.R+14,y:y+(v===100?14:17),'font-size':p.fs,'text-anchor':'start',fill:ink});
      lab.textContent=v;
      
      
    });
  }
  const box=mk('rect',g,{x:p.L,y:p.T,width:p.R-p.L,height:p.B-p.T,fill:'none',stroke:ink==='#262626'?'#262626':'#222','stroke-width':6});
  
  
  /* titles and axis labels */
  const title=mk('text',g,{x:p.tx,y:p.ty,'font-size':66,'text-anchor':'middle',fill:'#000'});
  
  
  mk('tspan',title,{}).textContent='(';
  mk('tspan',title,{'font-weight':'bold'}).textContent=p.letter;
  mk('tspan',title,{}).textContent=')';
  const xl=mk('text',g,{x:p.xlx,y:p.B+p.xlOff,'font-size':54,'font-style':'italic','text-anchor':'middle',textLength:193,lengthAdjust:'spacing',fill:'#000'});
  xl.textContent='t(hours)';
  
  
  const yl=mk('text',g,{transform:`translate(${p.ylx} ${p.yly0}) rotate(-90)`,x:0,y:0,'font-size':54,'font-style':'italic',textLength:p.ylen,lengthAdjust:'spacing',fill:'#000'});
  yl.textContent=p.ylab;
  
  
  if(p.rlab){
    const rl=mk('text',g,{transform:`translate(${p.rlx} ${p.rly0}) rotate(-90)`,x:0,y:0,'font-size':54,'font-style':'italic',textLength:p.rlen,lengthAdjust:'spacing',fill:'#000'});
    rl.textContent=p.rlab;
    
    
  }
}
function drawLegend(g,items,cols,rows,len){
  items.forEach((it,i)=>{
    const col=i%cols.length,row=Math.floor(i/cols.length);
    const x=cols[col],y=rows[row];
    const e=mk('g',g,{});
    
    
    const a={x1:x,x2:x+len,y1:y,y2:y,stroke:it[2],'stroke-width':7};
    if(it[4]==='dash')a['stroke-dasharray']=`${len*.62} ${len*.12} ${len}`;
    if(it[4]==='dot')a['stroke-dasharray']='4 4';
    mk('line',e,a);
    if(it[3]){drawMark(e,it[3],x+(it[4]==='dash'?len*.38:len/2),y,it[2],.95,it[5]);}
    const t=mk('text',e,{x:x+len+7,y:y+11,fill:'#000'});
    const main=mk('tspan',t,{'font-size':50,'font-style':'italic'});
    main.textContent=it[0];
    const sub=mk('tspan',t,{'font-size':31,dy:8,'letter-spacing':1.9});
    sub.textContent=it[1];
  });
}
function panelGroup(id){return document.getElementById(id);}

/* ---------- panel a ---------- */
(function(){
  const p={letter:'a',L:154,R:2120,T:108.5,B:759.5,ymin:-5,ymax:50,yt:aYTicks,fs:46,xOff:61,xlOff:120,tx:1082,ty:56,xlx:1137,
    ylab:'S, P, Q (kV A, kW, kV AR)',ylx:62,yly0:757,ylen:644};
  const g=panelGroup('panel-a');
  drawAxes(g,p);
  [
    {n:'s-res-avb-mmg',c:GRN,t:aResT,v:aResV,w:4.5},
    {n:'p-ev-avb-mmg',c:BLU,t:aEvT,v:aEvV,w:5},
    {n:'s-ess-avb-mmg',c:YEL,t:aEssT,v:aEssV,w:6},
    {n:'s-nres-avb-mmg',c:BLK,t:aNresT,v:aNresV,w:6},
    {n:'p-mg-req',c:RED,t:zeroT,v:zeroV,w:7,k:1.05,m:'sq',mt:shifted(zeroMarks,.37,2)},
    {n:'p-mg-cd',c:RED,t:zeroT,v:zeroV,w:7,k:1.1,m:'tu',mt:shifted(zeroMarks,.62,2)},
    {n:'q-mg-req',c:MAG,t:zeroT,v:zeroV,w:7,k:1.05,m:'di',mt:shifted(zeroMarks,.13,2)},
    {n:'q-mg-cd',c:MAG,t:zeroT,v:zeroV,w:7,k:1.1,m:'td',mt:shifted(zeroMarks,0,2)}
  ].forEach(s=>drawSeries(g,p,s));
  const legendA=[
    ['S','res,avb,mmg,1',GRN],['P','ev,avb,mmg,1',BLU],['S','ess,avb,mmg,1',YEL],['S','nres,avb,mmg,1',BLK],
    ['P','mg,req,1',RED,'sq'],['Q','mg,req,1',MAG,'di'],['P','mg,cd,1',RED,'tu'],['Q','mg,cd,1',MAG,'td']
  ];
  drawLegend(g,legendA,[499,818,1131,1446],[944,1001],60);
})();

/* ---------- panel b ---------- */
(function(){
  const p={letter:'b',L:2397,R:4273,T:130,B:750.5,ymin:-5,ymax:50,yt:bYTicks,fs:46,xOff:61,xlOff:111,tx:3233,ty:79,xlx:3335,
    ylab:'S, P, Q (kV A, kW, kV AR)',ylx:2314,yly0:748,ylen:618};
  const g=panelGroup('panel-b');
  drawAxes(g,p);
  [
    {n:'s-ess-cd-avb',c:CYN,t:bCdAvbT,v:bCdAvbV,w:6,m:'ci',mt:bMarkCd},
    {n:'s-ess-d-avb',c:MAG,t:bDAvbT,v:bDAvbV,w:6,m:'ci',mt:bMarkD},
    {n:'s-nres-rtd',c:RED,t:zeroT,v:bRtdV,w:6,m:'ci',mt:bMarkRtd},
    {n:'p-ess-d-req',c:CYN,t:bEssDT,v:bEssDV,w:5,m:'sq',mt:[3.1,3.4,3.5,18.4,22.2,22.9]},
    {n:'p-ess-c-req',c:BLU,t:bEssCT,v:bEssCV,w:6,m:'sq',mt:bMarkC},
    {n:'s-res-avb',c:GRN,t:bResT,v:bResV,w:6,m:'ci',mt:bMarkRes},
    {n:'p-res-req',c:GRN,t:bResT,v:bResV,w:5,m:'sq',mt:shifted(bMarkRes,.02,3)},
    {n:'p-nres-req',c:RED,t:bNresT,v:bNresV,w:4,m:'sq',mt:bMarkNres},
    {n:'s-ess-c-avb',c:YEL,t:zeroT,v:zeroV,w:6,m:'ci',mt:shifted(sparseMarks,.25)},
    {n:'q-res-req',c:GRN,t:zeroT,v:zeroV,w:6,m:'di',mt:shifted(sparseMarks,.05)},
    {n:'q-ess-c-req',c:BLU,t:zeroT,v:zeroV,w:6,m:'di',mt:shifted(sparseMarks,.3)},
    {n:'q-ess-d-req',c:CYN,t:zeroT,v:zeroV,w:6,m:'di',mt:shifted(sparseMarks,.55)},
    {n:'q-nres-req',c:RED,t:zeroT,v:zeroV,w:6,m:'di',mt:shifted(sparseMarks,.42)},
    {n:'load-p-l-req',c:BLK,t:bLoadT,v:bLoadV,w:6,smooth:true,m:'sq',mt:bMarkLoad},
    {n:'p-lsd',c:BLK,t:zeroT,v:zeroV,w:6,m:'sq',mt:shifted(sparseMarks,.18)},
    {n:'q-l-req',c:BLK,t:zeroT,v:zeroV,w:6,m:'di',mt:shifted(sparseMarks,.75)},
    {n:'q-lsd',c:BLK,t:zeroT,v:zeroV,w:6,m:'di',mt:shifted(sparseMarks,.5)},
    {n:'p-ev',c:ORG,t:bEvT,v:bEvV,w:6,m:'ci',mt:bMarkEv}
  ].forEach(s=>drawSeries(g,p,s));
  const legendB=[
    ['S','res,avb',GRN,'ci'],['S','ess,c,avb',YEL,'ci'],['S','ess,d,avb',MAG,'ci'],['S','ess,cd,avb',CYN,'ci'],['S','nres,rtd',RED,'ci'],['P','ev',ORG,'ci'],['P','l,req',BLK,'sq'],['Q','l,req',BLK,'di'],['P','res,req',GRN,'sq'],['Q','res,req',GRN,'di'],
    ['P','ess,c,req',BLU,'sq'],['P','ess,d,req',CYN,'sq'],['Q','ess,c,req',BLU,'di'],['Q','ess,d,req',CYN,'di'],['P','nres,req',RED,'sq'],['Q','nres,req',RED,'di'],['P','lsd',BLK,'sq','dash',true],['Q','lsd',BLK,'di','dash',true],['P','ev,sc,req',ORG,'sq']
  ];
  drawLegend(g,legendB,[2171,2392,2614,2843,3084,3298,3518,3684,3856,4080],[928,985],56);
})();

/* ---------- panel c ---------- */
(function(){
  const p={letter:'c',L:154,R:2120,T:1288.5,B:1939.5,ymin:-1,ymax:10,yt:cYTicks,fs:46,xOff:61,xlOff:118,tx:1082,ty:1236,xlx:1137,
    ylab:'S, P, Q (kV A, kW, kV AR)',ylx:62,yly0:1937,ylen:644};
  const g=panelGroup('panel-c');
  drawAxes(g,p);
  [
    {n:'s-res-avb-1',c:GRN,t:cHours,v:cCurve1,w:6,smooth:true,m:'ci',mt:cS1Marks},
    {n:'s-res-avb-2',c:BLU,t:cHours,v:cCurve2,w:6,smooth:true,m:'ci',mt:cS2Marks},
    {n:'s-res-avb-3',c:CYN,t:cHours,v:cCurve3,w:6,smooth:true,m:'ci',mt:cS3Marks},
    {n:'s-res-avb-4',c:RED,t:cHours,v:cCurve4,w:6,smooth:true,m:'ci',mt:cS4Marks},
    {n:'s-res-avb-5',c:BLK,t:cHours,v:cCurve5,w:5,smooth:true,m:'ci',mt:cS5Marks},
    {n:'p-res-ref-1',c:GRN,t:cHours,v:cCurve1,w:5,smooth:true,m:'sq',mt:cP1Marks},
    {n:'p-res-ref-2',c:BLU,t:cHours,v:cCurve2,w:5,smooth:true,m:'sq',mt:cP2Marks},
    {n:'p-res-ref-3',c:CYN,t:cHours,v:cCurve3,w:5,smooth:true,m:'sq',mt:cP3Marks},
    {n:'p-res-ref-4',c:RED,t:cHours,v:cCurve4,w:5,smooth:true,m:'sq',mt:cP4Marks},
    {n:'p-res-ref-5',c:BLK,t:cDipT,v:cDipV,w:4,m:'sq',mt:cP5Marks},
    {n:'q-res-ref-1',c:GRN,t:zeroT,v:zeroV,w:6,m:'di',mt:shifted(zeroMarks,.15,2)},
    {n:'q-res-ref-2',c:BLU,t:zeroT,v:zeroV,w:6,m:'di',mt:shifted(zeroMarks,.4,2)},
    {n:'q-res-ref-3',c:CYN,t:zeroT,v:zeroV,w:6,m:'di',mt:shifted(zeroMarks,.65,2)},
    {n:'q-res-ref-4',c:RED,t:zeroT,v:zeroV,w:6,m:'di',mt:shifted(zeroMarks,.25,2)},
    {n:'q-res-ref-5',c:BLK,t:zeroT,v:zeroV,w:7,m:'di',mt:shifted(zeroMarks,0,2)}
  ].forEach(s=>drawSeries(g,p,s));
  const legendC=[
    ['S','res,avb,1',GRN,'ci'],['S','res,avb,2',BLU,'ci'],['S','res,avb,3',CYN,'ci'],['S','res,avb,4',RED,'ci'],['S','res,avb,5',BLK,'ci'],['P','res,ref,1',GRN,'sq'],['P','res,ref,2',BLU,'sq'],['P','res,ref,3',CYN,'sq'],
    ['P','res,ref,4',RED,'sq'],['P','res,ref,5',BLK,'sq'],['Q','res,ref,1',GRN,'di'],['Q','res,ref,2',BLU,'di'],['Q','res,ref,3',CYN,'di'],['Q','res,ref,4',RED,'di'],['Q','res,ref,5',BLK,'di']
  ];
  drawLegend(g,legendC,[207,444,680,916,1151,1390,1624,1859],[2124,2181],56);
})();

/* ---------- panel d ---------- */
(function(){
  const p={letter:'d',L:2277,R:4271,T:1276,B:1936,ymin:0,ymax:5.5,yt:dYTicks,fs:46,xOff:61,xlOff:120,tx:3233,ty:1236,xlx:3272,
    ylab:'S, P, Q (kV A, kW, kV AR)',ylx:2218,yly0:1930,ylen:652};
  const g=panelGroup('panel-d');
  drawAxes(g,p);
  [
    {n:'s-nres-rtd-1',c:GRN,t:zeroT,v:dRated1,w:6,dash:'4 4'},
    {n:'s-nres-rtd-2',c:BLU,t:zeroT,v:dRated2,w:6,dash:'4 4'},
    {n:'s-nres-rtd-3',c:CYN,t:zeroT,v:dRated3,w:6,dash:'4 4'},
    {n:'s-nres-rtd-4',c:RED,t:zeroT,v:dRated4,w:6,dash:'4 4'},
    {n:'s-nres-rtd-5',c:BLK,t:zeroT,v:dRated5,w:6,dash:'4 4'},
    {n:'p-nres-ref-1',c:GRN,t:dP1T,v:dP1V,w:4,m:'sq',mt:[...shifted(dLow,.1),...dP1Level]},
    {n:'p-nres-ref-2',c:BLU,t:dP2T,v:dP2V,w:4,m:'sq',mt:[...shifted(dLow,.35),...dP2Level]},
    {n:'p-nres-ref-3',c:CYN,t:dP3T,v:dP3V,w:4,m:'sq',mt:[...shifted(dLow,.2),...dP3Level]},
    {n:'p-nres-ref-4',c:RED,t:dP4T,v:dP4V,w:5,m:'sq',mt:[...shifted(dLow,.45),...dP4Level]},
    {n:'p-nres-ref-5',c:BLK,t:dP5T,v:dP5V,w:5,m:'sq',mt:[...shifted(dLow,.6,2),...dP5Level]},
    {n:'q-nres-ref-1',c:GRN,t:zeroT,v:zeroV,w:6,m:'di',mt:shifted(zeroMarks,.15,2)},
    {n:'q-nres-ref-2',c:BLU,t:zeroT,v:zeroV,w:6,m:'di',mt:shifted(zeroMarks,.4,2)},
    {n:'q-nres-ref-3',c:CYN,t:zeroT,v:zeroV,w:6,m:'di',mt:shifted(zeroMarks,.65,2)},
    {n:'q-nres-ref-4',c:RED,t:zeroT,v:zeroV,w:6,m:'di',mt:shifted(zeroMarks,.25,2)},
    {n:'q-nres-ref-5',c:BLK,t:zeroT,v:zeroV,w:8,m:'di',mt:shifted(zeroMarks,0,2)}
  ].forEach(s=>drawSeries(g,p,s));
  const legendD=[
    ['S','nres,rtd,1',GRN,null,'dot'],['P','nres,ref,1',GRN,'sq'],['Q','nres,ref,1',GRN,'di'],['S','nres,rtd,2',BLU,null,'dot'],['P','nres,ref,2',BLU,'sq'],['Q','nres,ref,2',BLU,'di'],['S','nres,rtd,3',CYN,null,'dot'],['P','nres,ref,3',CYN,'sq'],
    ['Q','nres,ref,3',CYN,'di'],['S','nres,rtd,4',RED,null,'dot'],['P','nres,ref,4',RED,'sq'],['Q','nres,ref,4',RED,'di'],['S','nres,rtd,5',BLK,null,'dot'],['P','nres,ref,5',BLK,'sq'],['Q','nres,ref,5',BLK,'di']
  ];
  drawLegend(g,legendD,[2250,2507,2757,3012,3270,3518,3773,4033],[2125,2183],56);
})();

/* ---------- panel e ---------- */
(function(){
  const p={letter:'e',L:138.3,R:1997.7,T:2465.5,B:3081.5,ymin:-5.5,ymax:5.5,yt:eYTicks,rt:eRTicks,rmin:0,rmax:100,ink:'#000',fs:44,xOff:58,yOff:18,xlOff:120,tx:1082,ty:2414,xlx:1065,
    ylab:'P (kW)',ylx:60,yly0:2856,ylen:164,rlab:'SoC(%)',rlx:2140,rly0:2859,rlen:166};
  const g=panelGroup('panel-e');
  drawAxes(g,p);
  [
    {n:'p-ev-1',c:GRN,t:eP1T,v:eP1V,w:5,m:'sq',mt:[...shifted(sparseMarks,.1,2),8.55,9.4,10.1]},
    {n:'p-ev-2',c:BLU,t:eP2T,v:eP2V,w:5,m:'sq',mt:[...shifted(sparseMarks,.3,2),11.05,12,12.9]},
    {n:'p-ev-3',c:CYN,t:eP3T,v:eP3V,w:5,m:'sq',mt:[...shifted(sparseMarks,.5,2),7.2,8.15,9.75]},
    {n:'p-ev-4',c:RED,t:eP4T,v:eP4V,w:5,m:'sq',mt:[...shifted(sparseMarks,.7,2),9.7,10.7,11.65,12.95]},
    {n:'p-ev-5',c:BLK,t:eP5T,v:eP5V,w:5,m:'sq',mt:eP5Level},
    {n:'p-ev-sc-1',c:GRN,t:zeroT,v:zeroV,w:6,m:'di',mt:shifted(zeroMarks,.12,2)},
    {n:'p-ev-sc-2',c:BLU,t:zeroT,v:zeroV,w:6,m:'di',mt:shifted(zeroMarks,.34,2)},
    {n:'p-ev-sc-3',c:CYN,t:zeroT,v:zeroV,w:6,m:'di',mt:shifted(zeroMarks,.56,2)},
    {n:'p-ev-sc-4',c:RED,t:zeroT,v:zeroV,w:6,m:'di',mt:shifted(zeroMarks,.24,2)},
    {n:'p-ev-sc-5',c:BLK,t:zeroT,v:zeroV,w:7,m:'di',mt:shifted(zeroMarks,0,2)},
    {n:'soc-ev-1',c:GRN,t:eSoc1T,v:eSoc1V,w:6,right:true,dash:'23 19',m:'ci',hollow:true,mt:eSoc1Marks},
    {n:'soc-ev-2',c:BLU,t:eSoc2T,v:eSoc2V,w:6,right:true,dash:'23 19',m:'ci',hollow:true,mt:eSoc2Marks},
    {n:'soc-ev-3',c:CYN,t:eSoc3T,v:eSoc3V,w:6,right:true,dash:'23 19',m:'ci',hollow:true,mt:eSoc3Marks},
    {n:'soc-ev-4',c:RED,t:eSoc4T,v:eSoc4V,w:6,right:true,dash:'23 19',m:'ci',hollow:true,mt:eSoc4Marks},
    {n:'soc-ev-5',c:BLK,t:eSoc5T,v:eSoc5V,w:6,right:true,dash:'23 19',m:'ci',hollow:true,mt:eSoc5Marks}
  ].forEach(s=>drawSeries(g,p,s));
  const legendE=[
    ['P','ev,1',GRN,'sq'],['P','ev,2',BLU,'sq'],['P','ev,3',CYN,'sq'],['P','ev,4',RED,'sq'],['P','ev,5',BLK,'sq'],['P','ev,sc,1',GRN,'di'],['P','ev,sc,2',BLU,'di'],['P','ev,sc,3',CYN,'di'],
    ['P','ev,sc,4',RED,'di'],['P','ev,sc,5',BLK,'di'],['SoC','ev,1',GRN,'ci','dash',true],['SoC','ev,2',BLU,'ci','dash',true],['SoC','ev,3',CYN,'ci','dash',true],['SoC','ev,4',RED,'ci','dash',true],['SoC','ev,5',BLK,'ci','dash',true]
  ];
  drawLegend(g,legendE,[245,439,634,848,1064,1278,1493,1707],[3254,3311],56);
})();

/* ---------- panel f ---------- */
(function(){
  const p={letter:'f',L:2285.5,R:4150,T:2466,B:3081.5,ymin:-3,ymax:3,yt:fYTicks,rt:fRTicks,rmin:0,rmax:100,ink:'#000',fs:44,xOff:58,yOff:18,xlOff:120,tx:3233,ty:2414,xlx:3215,
    ylab:'P, Q (kW, kVAR)',ylx:2208,yly0:2980,ylen:412,rlab:'SoC(%)',rlx:4290,rly0:2859,rlen:166};
  const g=panelGroup('panel-f');
  drawAxes(g,p);
  [
    {n:'p-ess-ref-1',c:GRN,t:fP1T,v:fP1V,w:5.5,m:'sq',mt:[...shifted(fZeroRun,.1),...shifted(fLevel,.05,2)]},
    {n:'p-ess-ref-2',c:BLU,t:fP2T,v:fP2V,w:5.5,m:'sq',mt:[...shifted(fZeroRun,.3),...shifted(fLevel,.1,2)]},
    {n:'p-ess-ref-3',c:CYN,t:fP3T,v:fP3V,w:5.5,m:'sq',mt:[...shifted(fZeroRun,.2),...shifted(fLevel,.15,2)]},
    {n:'p-ess-ref-4',c:RED,t:fP4T,v:fP4V,w:5.5,m:'sq',mt:[...shifted(fZeroRun,.4),3.4,6.15,7.05,18.25,19.4,22.5,23.85]},
    {n:'q-ess-ref-1',c:GRN,t:zeroT,v:zeroV,w:6,m:'di',mt:shifted(zeroMarks,.12,2)},
    {n:'q-ess-ref-2',c:BLU,t:zeroT,v:zeroV,w:6,m:'di',mt:shifted(zeroMarks,.34,2)},
    {n:'q-ess-ref-3',c:CYN,t:zeroT,v:zeroV,w:6,m:'di',mt:shifted(zeroMarks,.56,2)},
    {n:'q-ess-ref-4',c:RED,t:zeroT,v:zeroV,w:6,m:'di',mt:shifted(zeroMarks,.24,2)},
    {n:'soc-ess-1',c:GRN,t:fSoc1T,v:fSoc1V,w:6,right:true,dash:'23 19',m:'ci',hollow:true,mt:fSoc1Marks},
    {n:'soc-ess-2',c:BLU,t:fSoc2T,v:fSoc2V,w:6,right:true,dash:'23 19',m:'ci',hollow:true,mt:fSoc2Marks},
    {n:'soc-ess-3',c:CYN,t:fSoc3T,v:fSoc3V,w:6,right:true,dash:'23 19',m:'ci',hollow:true,mt:fSoc3Marks},
    {n:'soc-ess-4',c:RED,t:fSoc4T,v:fSoc4V,w:6,right:true,dash:'23 19',m:'ci',hollow:true,mt:fSoc4Marks},
    {n:'p-ess-ref-5',c:BLK,t:fP5T,v:fP5V,w:5.5,m:'sq',mt:[...shifted(fZeroRun,.6),3.45,4.45,6.75,7.4,19.05,22.7,23.85]},
    {n:'q-ess-ref-5',c:BLK,t:zeroT,v:zeroV,w:8,m:'di',mt:shifted(zeroMarks,0,2)},
    {n:'soc-ess-5',c:BLK,t:fSoc5T,v:fSoc5V,w:6,right:true,dash:'23 19',m:'ci',hollow:true,mt:fSoc5Marks}
  ].forEach(s=>drawSeries(g,p,s));
  const legendF=[
    ['P','ess,ref,1',GRN,'sq'],['Q','ess,ref,1',GRN,'di'],['P','ess,ref,2',BLU,'sq'],['Q','ess,ref,2',BLU,'di'],['P','ess,ref,3',CYN,'sq'],['Q','ess,ref,3',CYN,'di'],['P','ess,ref,4',RED,'sq'],['Q','ess,ref,4',RED,'di'],
    ['P','ess,ref,5',BLK,'sq'],['Q','ess,ref,5',BLK,'di'],['SoC','ess,1',GRN,'ci','dash',true],['SoC','ess,2',BLU,'ci','dash',true],['SoC','ess,3',CYN,'ci','dash',true],['SoC','ess,4',RED,'ci','dash',true],['SoC','ess,5',BLK,'ci','dash',true]
  ];
  drawLegend(g,legendF,[2337,2556,2774,2997,3219,3442,3663,3884],[3254,3311],56);
})();

/* ---------- panel g ---------- */
(function(){
  const p={letter:'g',L:1228.4,R:3199.6,T:3592,B:4243,ymin:-.52,ymax:12.53,yt:gYTicks,fs:45,xOff:60,yOff:18,xlOff:120,tx:2160,ty:3546,xlx:2213,
    ylab:'P, Q (kW, kV AR)',ylx:1141,yly0:4135,ylen:436};
  const g=panelGroup('panel-g');
  drawAxes(g,p);
  [
    {n:'p-l-req-1',c:GRN,t:gHours,v:gLoad1,w:6,smooth:true,m:'sq',mt:gMarks1},
    {n:'p-lsd-1',c:GRN,t:zeroT,v:zeroV,w:6,m:'sq',mt:shifted(zeroMarks,.5,3)},
    {n:'q-l-req-1',c:GRN,t:zeroT,v:zeroV,w:6,m:'di',mt:shifted(zeroMarks,.12,2)},
    {n:'q-lsd-1',c:GRN,t:zeroT,v:zeroV,w:6,m:'di',hollow:true,mt:shifted(zeroMarks,.45,3)},
    {n:'p-l-req-2',c:BLU,t:gHours,v:gLoad2,w:6,smooth:true,m:'sq',mt:gMarks2},
    {n:'p-lsd-2',c:BLU,t:zeroT,v:zeroV,w:6,m:'sq',mt:shifted(zeroMarks,.72,3)},
    {n:'q-l-req-2',c:BLU,t:zeroT,v:zeroV,w:6,m:'di',mt:shifted(zeroMarks,.34,2)},
    {n:'q-lsd-2',c:BLU,t:zeroT,v:zeroV,w:6,m:'di',hollow:true,mt:shifted(zeroMarks,.65,3)},
    {n:'p-l-req-3',c:CYN,t:gHours,v:gLoad3,w:6,smooth:true,m:'sq',mt:gMarks3},
    {n:'p-lsd-3',c:CYN,t:zeroT,v:zeroV,w:6,m:'sq',mt:shifted(zeroMarks,.28,3)},
    {n:'q-l-req-3',c:CYN,t:zeroT,v:zeroV,w:6,m:'di',mt:shifted(zeroMarks,.56,2)},
    {n:'q-lsd-3',c:CYN,t:zeroT,v:zeroV,w:6,m:'di',hollow:true,mt:shifted(zeroMarks,.8,3)},
    {n:'p-l-req-4',c:RED,t:gHours,v:gLoad4,w:6,smooth:true,m:'sq',mt:gMarks4},
    {n:'p-lsd-4',c:RED,t:zeroT,v:zeroV,w:6,m:'sq',mt:shifted(zeroMarks,.95,3)},
    {n:'q-l-req-4',c:RED,t:zeroT,v:zeroV,w:6,m:'di',mt:shifted(zeroMarks,.24,2)},
    {n:'q-lsd-4',c:RED,t:zeroT,v:zeroV,w:6,m:'di',hollow:true,mt:shifted(zeroMarks,.7,3)},
    {n:'p-l-req-5',c:BLK,t:gHours,v:gLoad5,w:5,smooth:true,m:'sq',mt:gMarks5},
    {n:'p-lsd-5',c:BLK,t:zeroT,v:zeroV,w:6,m:'sq',mt:shifted(zeroMarks,.2,4)},
    {n:'q-l-req-5',c:BLK,t:zeroT,v:zeroV,w:7,m:'di',mt:shifted(zeroMarks,0,2)},
    {n:'q-lsd-5',c:BLK,t:zeroT,v:zeroV,w:7,m:'di',hollow:true,mt:shifted(zeroMarks,.9,3)}
  ].forEach(s=>drawSeries(g,p,s));
  const legendG=[
    ['P','l,req,1',GRN,'sq'],['P','lsd,1',GRN,'sq','dash',true],['Q','l,req,1',GRN,'di'],['Q','lsd,1',GRN,'di','dash',true],['P','l,req,2',BLU,'sq'],['P','lsd,2',BLU,'sq','dash',true],['Q','l,req,2',BLU,'di'],['Q','lsd,2',BLU,'di','dash',true],['P','l,req,3',CYN,'sq'],['P','lsd,3',CYN,'sq','dash',true],
    ['Q','l,req,3',CYN,'di'],['Q','lsd,3',CYN,'di','dash',true],['P','l,req,4',RED,'sq'],['P','lsd,4',RED,'sq','dash',true],['Q','l,req,4',RED,'di'],['Q','lsd,4',RED,'di','dash',true],['P','l,req,5',BLK,'sq'],['P','lsd,5',BLK,'sq','dash',true],['Q','l,req,5',BLK,'di'],['Q','lsd,5',BLK,'di','dash',true]
  ];
  drawLegend(g,legendG,[1242,1450,1633,1842,2024,2230,2413,2621,2806,3013],[4428,4485],58);
})();
</script>
</body>
</html>
